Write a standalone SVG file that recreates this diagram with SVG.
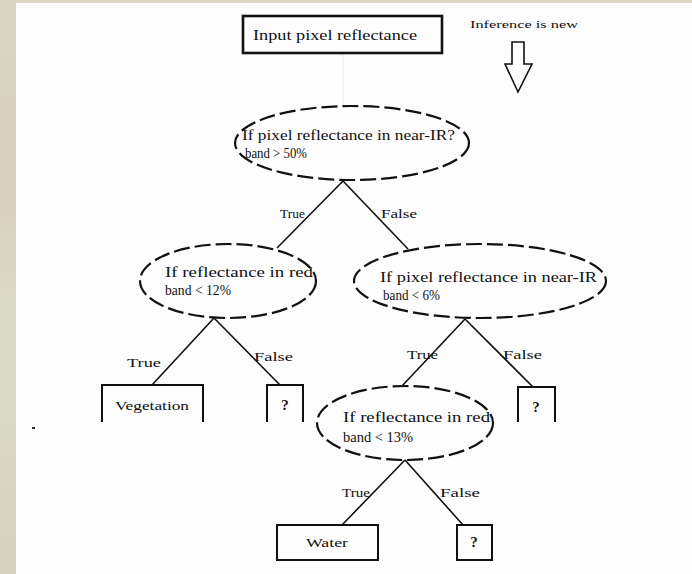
<svg xmlns="http://www.w3.org/2000/svg" width="692" height="574" viewBox="0 0 692 574">
<defs>
<linearGradient id="bg" x1="0" y1="0" x2="0" y2="1">
<stop offset="0" stop-color="#d9d6c8"/>
<stop offset="0.3" stop-color="#d8cfbf"/>
<stop offset="0.6" stop-color="#dcdccd"/>
<stop offset="1" stop-color="#d6d0bf"/>
</linearGradient>
</defs>
<style>
.t{font-family:"Liberation Serif","Times New Roman",serif;fill:#111;}
.n{font-size:14px;}
.l{font-size:12px;}
.q{font-size:15px;font-weight:bold;}
.dec{fill:none;stroke:#111;stroke-width:2.2;stroke-dasharray:16 5;}
.box{fill:none;stroke:#111;stroke-width:2;}
.edge{stroke:#111;stroke-width:1.6;fill:none;}
</style>
<rect x="0" y="0" width="692" height="574" fill="url(#bg)"/>
<rect x="16" y="3" width="676" height="571" fill="#fdfdfd"/>
<rect x="32" y="427" width="3" height="2" fill="#333"/>

<g id="connectors">
<line x1="343" y1="54" x2="343" y2="106" stroke="#ececec" stroke-width="1"/>
<line class="edge" x1="343" y1="181" x2="277" y2="248"/>
<line class="edge" x1="343" y1="181" x2="408" y2="249"/>
<line class="edge" x1="214" y1="318" x2="152" y2="385"/>
<line class="edge" x1="214" y1="318" x2="280" y2="385"/>
<line class="edge" x1="465" y1="319" x2="402" y2="386"/>
<line class="edge" x1="465" y1="319" x2="533" y2="387"/>
<line class="edge" x1="405" y1="460" x2="342" y2="525"/>
<line class="edge" x1="405" y1="460" x2="463" y2="525"/>
<text class="t l" x="280" y="218" textLength="25" lengthAdjust="spacingAndGlyphs">True</text>
<text class="t l" x="381" y="218" textLength="36" lengthAdjust="spacingAndGlyphs">False</text>
<text class="t l" x="127" y="367" textLength="34" lengthAdjust="spacingAndGlyphs">True</text>
<text class="t l" x="254" y="361" textLength="39" lengthAdjust="spacingAndGlyphs">False</text>
<text class="t l" x="407" y="359" textLength="31" lengthAdjust="spacingAndGlyphs">True</text>
<text class="t l" x="503" y="359" textLength="39" lengthAdjust="spacingAndGlyphs">False</text>
<text class="t l" x="342" y="497" textLength="28" lengthAdjust="spacingAndGlyphs">True</text>
<text class="t l" x="440" y="497" textLength="40" lengthAdjust="spacingAndGlyphs">False</text>
</g>

<g id="input">
<rect x="243" y="16" width="199" height="37" fill="none" stroke="#111" stroke-width="2.6"/>
<text class="t" x="253" y="40" font-size="15" textLength="164" lengthAdjust="spacingAndGlyphs">Input pixel reflectance</text>
</g>

<g id="legend">
<text class="t" x="470" y="28" font-size="11" textLength="108" lengthAdjust="spacingAndGlyphs">Inference is new</text>
<polygon points="512,42 524,42 524,64 532,64 518,92 505,64 512,64" fill="none" stroke="#111" stroke-width="1.6"/>
</g>

<g id="d1">
<ellipse class="dec" cx="352" cy="143" rx="117" ry="37"/>
<text class="t n" x="242" y="140" textLength="213" lengthAdjust="spacingAndGlyphs">If pixel reflectance in near-IR?</text>
<text class="t n" x="245" y="158" textLength="62" lengthAdjust="spacingAndGlyphs">band &gt; 50%</text>
</g>

<g id="d2">
<ellipse class="dec" cx="228" cy="281" rx="88" ry="37"/>
<text class="t n" x="165" y="277" textLength="148" lengthAdjust="spacingAndGlyphs">If reflectance in red</text>
<text class="t n" x="165" y="295" textLength="66" lengthAdjust="spacingAndGlyphs">band &lt; 12%</text>
</g>

<g id="d3">
<ellipse class="dec" cx="480" cy="281" rx="126" ry="37"/>
<text class="t n" x="380" y="282" textLength="217" lengthAdjust="spacingAndGlyphs">If pixel reflectance in near-IR</text>
<text class="t n" x="383" y="300" textLength="57" lengthAdjust="spacingAndGlyphs">band &lt; 6%</text>
</g>

<g id="d4">
<ellipse class="dec" cx="405" cy="423" rx="88" ry="37"/>
<text class="t n" x="343" y="422" textLength="147" lengthAdjust="spacingAndGlyphs">If reflectance in red</text>
<text class="t n" x="343" y="442" textLength="70" lengthAdjust="spacingAndGlyphs">band &lt; 13%</text>
</g>

<g id="vegetation">
<path class="box" d="M102,422 V385 H203 V422"/>
<text class="t" x="152" y="410" font-size="13" text-anchor="middle" textLength="74" lengthAdjust="spacingAndGlyphs">Vegetation</text>
</g>

<g id="q1">
<path class="box" d="M267,422 V385 H303 V422"/>
<text class="t q" x="285" y="410" text-anchor="middle">?</text>
</g>

<g id="q2">
<path class="box" d="M518,422 V387 H555 V422"/>
<text class="t q" x="536" y="412" text-anchor="middle">?</text>
</g>

<g id="water">
<rect class="box" x="277" y="525" width="101" height="35"/>
<text class="t" x="327" y="547" font-size="13" text-anchor="middle" textLength="42" lengthAdjust="spacingAndGlyphs">Water</text>
</g>

<g id="q3">
<rect class="box" x="457" y="525" width="35" height="35"/>
<text class="t q" x="474" y="547" text-anchor="middle">?</text>
</g>
</svg>
